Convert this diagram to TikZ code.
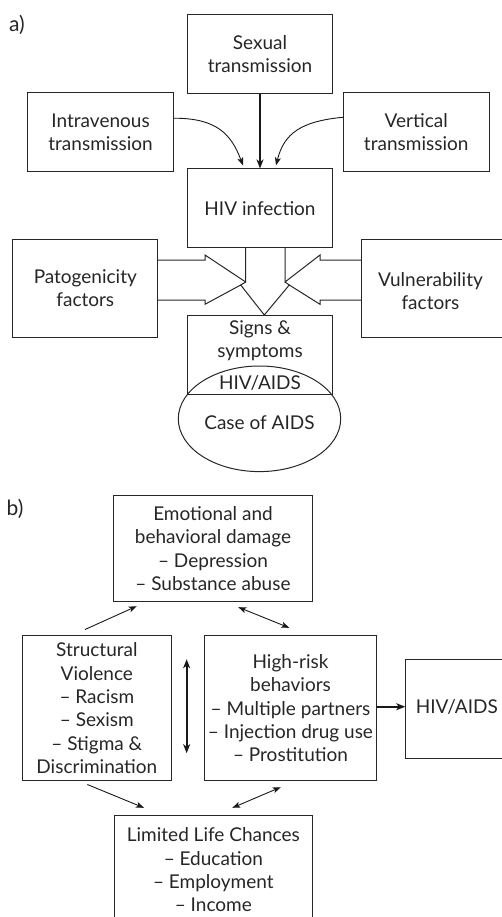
\documentclass[tikz,border=0pt]{standalone}
\usepackage{fontspec}
\setmainfont{Lato}
\usetikzlibrary{arrows.meta,calc,shapes.geometric}
\begin{document}
\begin{tikzpicture}[x=1pt,y=-1pt,
  lbl/.style={inner sep=0pt, align=center, text=black!85,
    font=\fontsize{19}{23.3}\selectfont},
  tag/.style={inner sep=0pt, text=black!85, font=\fontsize{21}{24}\selectfont},
  box/.style={lbl, draw=black!85, line width=1pt, rectangle},
  arr/.style={-{Stealth[length=8pt,width=6pt,inset=2pt]}, line width=0.9pt, black!90},
  darr/.style={{Stealth[length=8pt,width=6pt,inset=2pt]}-{Stealth[length=8pt,width=6pt,inset=2pt]}, line width=0.9pt, black!90},
  tarr/.style={-{Stealth[length=9pt,width=7pt,inset=2.5pt]}, line width=1.7pt, black!90},
  tdarr/.style={{Stealth[length=9pt,width=7pt,inset=2.5pt]}-{Stealth[length=9pt,width=7pt,inset=2.5pt]}, line width=1.7pt, black!90},
  blk/.style={draw=black!85, line width=1pt, line join=miter}
]
\useasboundingbox (0,0) rectangle (502,917);
\clip (0,0) rectangle (502,917);

% ---------- part a ----------
\node[tag] (la) at (17,25) {a)};

\node[box, minimum width=145.4pt, minimum height=79pt] (sex) at (260,53.8) {Sexual\\transmission};
\node[box, minimum width=145.8pt, minimum height=79pt] (iv) at (100.6,132.2) {Intravenous\\transmission};
\node[box, minimum width=145.7pt, minimum height=79.3pt] (vt) at (416.2,132.3) {Vertical\\transmission};
\node[box, minimum width=145.4pt, minimum height=78.5pt] (hiv) at (260,208.2) {HIV infection};

\node[box, minimum width=145.3pt, minimum height=98pt] (pat) at (85.3,288.3) {Patogenicity\\factors};
\node[box, minimum width=150pt, minimum height=98pt] (vul) at (436.7,288.3) {};
\node[lbl] (vultxt) at (430.5,291) {Vulnerability\\factors};

\node[box, minimum width=145pt, minimum height=79pt] (sig) at (260,354.5) {};
\node[lbl] (sigtxt) at (260,341) {Signs \&\\symptoms};
\node[lbl] (hivaids) at (260,383.3) {HIV/AIDS};
\node[draw=black!85, line width=1pt, ellipse, inner sep=0pt,
      minimum width=162.4pt, minimum height=105.6pt] (case) at (259.5,418.8) {};
\node[lbl] (casetxt) at (259.5,422.3) {Case of AIDS};

% transmission routes
\draw[tarr] (sex.south) -- (hiv.north);
\draw[arr] ([yshift=14pt]iv.east) .. controls +(42,0) and +(-12,-32) .. ([xshift=-17pt,yshift=3pt]hiv.north);
\draw[arr] ([yshift=15pt]vt.west) .. controls +(-42,4) and +(8,-32) .. ([xshift=16pt,yshift=3pt]hiv.north);

% block arrows converging on signs & symptoms
\draw[blk] (158,260) -- (205,260) -- (205,255) -- (245.7,282) -- (245.7,247.5);
\draw[blk] (158,300) -- (205,300) -- (205,304.3) -- (240.7,285) -- (264.3,315)
           -- (289.3,285) -- (320,304.3) -- (320,300) -- (361.7,300);
\draw[blk] (361.7,260) -- (320,260) -- (320,255) -- (285,282) -- (285,247.5);
\draw[blk] (240.7,285) -- (245.7,282);
\draw[blk] (289.3,285) -- (285,282);

% ---------- part b ----------
\node[tag] (lb) at (15,509) {b)};

\node[box, minimum width=199.4pt, minimum height=105.6pt] (emo) at (213,548.5)
  {Emotional and\\behavioral damage\\– Depression\\– Substance abuse};
\node[box, minimum width=148.3pt, minimum height=145pt] (sv) at (96.85,708.2)
  {Structural\\Violence\\– Racism\\– Sexism\\– Stigma \&\\Discrimination};
\node[box, minimum width=172.4pt, minimum height=145pt] (hr) at (290.5,708.2)
  {High-risk\\behaviors\\– Multiple partners\\– Injection drug use\\– Prostitution};
\node[box, minimum width=110pt, minimum height=99.3pt] (ha) at (460.7,708.7) {};
\node[lbl, anchor=west] (hatxt) at (415.7,706.7) {HIV/AIDS};
\node[box, minimum width=198.7pt, minimum height=110pt] (lim) at (213.35,870)
  {Limited Life Chances\\– Education\\– Employment\\– Income};

\coordinate (mid) at ($(sv.east)!0.5!(hr.west)$);

\draw[arr] ([xshift=-11.85pt,yshift=5.7pt]sv.north) -- ([xshift=-76.3pt,yshift=-4.4pt]emo.south);
\draw[darr] ([xshift=25.3pt,yshift=-5.4pt]emo.south) -- ([xshift=-1.2pt,yshift=7.4pt]hr.north);
\draw[tdarr] ([xshift=-1pt,yshift=49pt]mid) -- ([xshift=-1pt,yshift=-45pt]mid);
\draw[tarr] ([yshift=1.5pt]hr.east) -- ([yshift=1.5pt]hr.east -| ha.west);
\draw[arr] ([xshift=-9.5pt,yshift=-3.3pt]sv.south) -- ([xshift=-69.35pt,yshift=6.7pt]lim.north);
\draw[darr] ([xshift=19pt,yshift=6.7pt]lim.north) -- ([xshift=-9.8pt,yshift=-6pt]hr.south);
\end{tikzpicture}
\end{document}
